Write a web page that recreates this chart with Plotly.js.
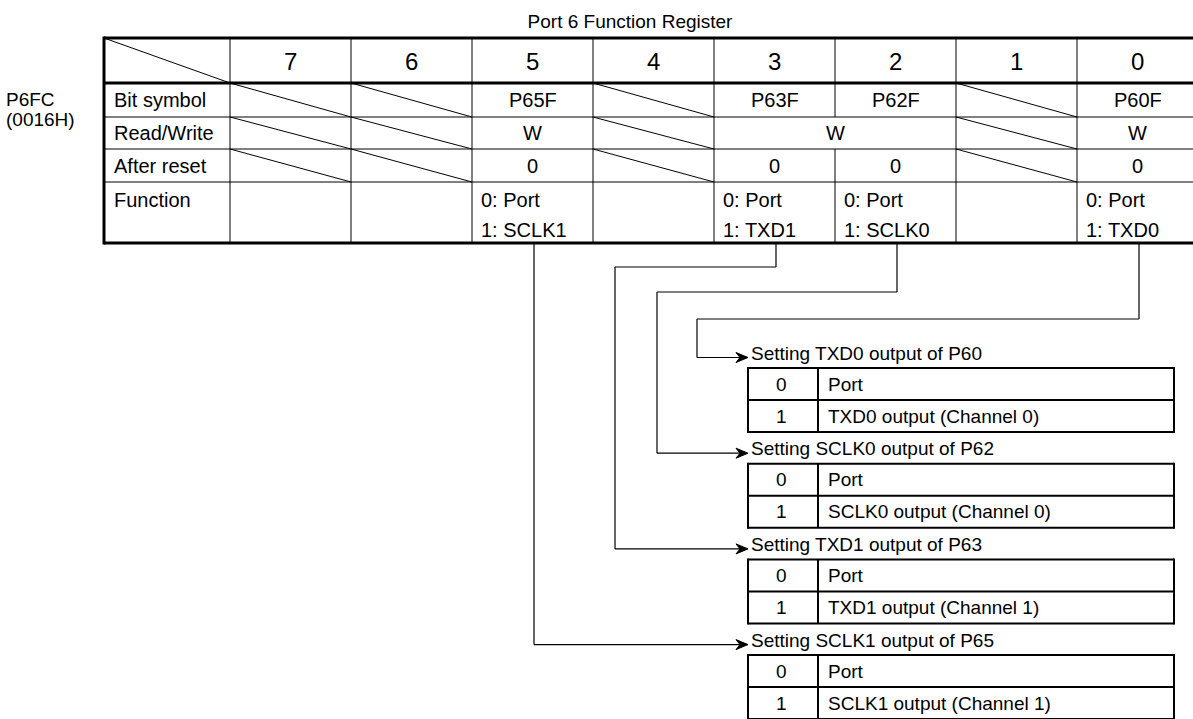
<!DOCTYPE html>
<html><head><meta charset="utf-8">
<script src="https://cdn.plot.ly/plotly-3.0.1.min.js"></script>
<style>html,body{margin:0;padding:0;background:#fff;overflow:hidden}</style>
</head><body><div id="chart" style="width:1193px;height:719px"></div>
<script>
// ---------- content ----------
const chartTitle = 'Port 6 Function Register';
const registerName = 'P6FC';
const registerAddress = '(0016H)';
const bitNumbers = ['7', '6', '5', '4', '3', '2', '1', '0'];
const rowLabels = ['Bit symbol', 'Read/Write', 'After reset', 'Function'];
const bitSymbols = ['', '', 'P65F', '', 'P63F', 'P62F', '', 'P60F'];
const readWriteSpans = [['5', '5', 'W'], ['3', '2', 'W'], ['0', '0', 'W']];
const afterReset = ['', '', '0', '', '0', '0', '', '0'];
const functionLine0 = ['', '', '0: Port', '', '0: Port', '0: Port', '', '0: Port'];
const functionLine1 = ['', '', '1: SCLK1', '', '1: TXD1', '1: SCLK0', '', '1: TXD0'];
const unusedBits = ['7', '6', '4', '1'];
const settingTitles = ['Setting TXD0 output of P60', 'Setting SCLK0 output of P62',
                       'Setting TXD1 output of P63', 'Setting SCLK1 output of P65'];
const settingSourceBits = ['0', '2', '3', '5'];
const settingValues = ['0', '1'];
const settingDescriptions = [
  ['Port', 'TXD0 output (Channel 0)'],
  ['Port', 'SCLK0 output (Channel 0)'],
  ['Port', 'TXD1 output (Channel 1)'],
  ['Port', 'SCLK1 output (Channel 1)']
];

// ---------- geometry / style ----------
const W = 1193, H = 719;
const FONT = 'Liberation Sans, Arial, sans-serif';
const FS = 19, FS_TABLE = 20, FS_HEAD = 24;
const G = {
  left: 104, labelRight: 230, colW: 121,
  rowY: [38, 83, 117, 149, 182, 243],
  thick: 3, thin: 1,
  railX: {'0': 697, '2': 657, '3': 615, '5': null},
  jogY: {'0': 319, '2': 292, '3': 267, '5': null},
  dropOffset: 1.5,
  subLeft: 748, subDiv: 818, subRight: 1174,
  subTop0: 368, subStep: 95.7, subRowH: 32, arrowGap: 10.5,
  lineW: 1.2, subW: 2
};
const right = G.labelRight + G.colW * bitNumbers.length;
const colL = i => G.labelRight + G.colW * i;
const colC = i => G.labelRight + G.colW * (i + 0.5);
const idx = b => bitNumbers.indexOf(b);

const shapes = [];
const ann = [];
function ln(x0, y0, x1, y1, w) {
  shapes.push({type: 'line', xref: 'x', yref: 'y', x0, y0, x1, y1,
    line: {color: '#000', width: w}, layer: 'above'});
}
function txt(x, y, t, size, xa) {
  ann.push({xref: 'x', yref: 'y', x, y, text: t, showarrow: false,
    xanchor: xa || 'center', yanchor: 'middle',
    font: {family: FONT, size, color: '#000'}});
}
function arrowHead(x, y) {
  shapes.push({type: 'path', xref: 'x', yref: 'y',
    path: `M${x},${y} L${x - 12},${y - 5} L${x - 8},${y} L${x - 12},${y + 5} Z`,
    fillcolor: '#000', line: {color: '#000', width: 1}, layer: 'above'});
}

const R = G.rowY;
// thin horizontal row lines
for (let r = 2; r <= 4; r++) ln(G.left, R[r], right, R[r], G.thin);
// vertical column lines
for (let i = 0; i <= bitNumbers.length; i++) {
  const x = colL(i);
  if (i === idx('2')) {
    ln(x, R[0], x, R[2], G.thin);
    ln(x, R[3], x, R[5], G.thin);
  } else {
    ln(x, R[0], x, R[5], G.thin);
  }
}
// thick borders
ln(G.left, R[0], right, R[0], G.thick);
ln(G.left, R[1], right, R[1], G.thick);
ln(G.left, R[5], right, R[5], G.thick);
ln(G.left, R[0] - 1.5, G.left, R[5] + 1.5, G.thick);
ln(right, R[0] - 1.5, right, R[5] + 1.5, G.thick);
// diagonals
ln(G.left, R[0], G.labelRight, R[1], G.thin);
unusedBits.forEach(b => {
  const i = idx(b);
  for (let r = 1; r <= 3; r++) ln(colL(i), R[r], colL(i + 1), R[r + 1], G.thin);
});

// header digits
bitNumbers.forEach((b, i) => txt(colC(i), (R[0] + R[1]) / 2 + 1, b, FS_HEAD));
// row labels
rowLabels.forEach((l, r) => {
  const y = r < 3 ? (R[r + 1] + R[r + 2]) / 2 : R[4] + 18;
  txt(G.left + 8, y, l, FS_TABLE, 'left');
});
bitSymbols.forEach((s, i) => { if (s) txt(colC(i), (R[1] + R[2]) / 2, s, FS_TABLE); });
readWriteSpans.forEach(([a, b, t]) => {
  const x = (colL(idx(a)) + colL(idx(b) + 1)) / 2;
  txt(x, (R[2] + R[3]) / 2, t, FS_TABLE);
});
afterReset.forEach((s, i) => { if (s) txt(colC(i), (R[3] + R[4]) / 2, s, FS_TABLE); });
functionLine0.forEach((s, i) => { if (s) txt(colL(i) + 7, R[4] + 18, s, FS_TABLE, 'left'); });
functionLine1.forEach((s, i) => { if (s) txt(colL(i) + 7, R[4] + 48, s, FS_TABLE, 'left'); });

// register name
txt(4, 99, registerName, FS, 'left');
txt(4, 119, registerAddress, FS, 'left');

// setting groups + connectors
settingTitles.forEach((title, g) => {
  const top = G.subTop0 + G.subStep * g;
  const ay = top - G.arrowGap;
  const bit = settingSourceBits[g];
  const cx = colC(idx(bit)) + G.dropOffset;
  const rail = G.railX[bit], jog = G.jogY[bit];
  if (rail === null) {
    ln(cx, R[5], cx, ay, G.lineW);
    ln(cx, ay, G.subLeft - 6, ay, G.lineW);
  } else {
    ln(cx, R[5], cx, jog, G.lineW);
    ln(cx, jog, rail, jog, G.lineW);
    ln(rail, jog, rail, ay, G.lineW);
    ln(rail, ay, G.subLeft - 6, ay, G.lineW);
  }
  arrowHead(G.subLeft, ay);
  txt(G.subLeft + 1, top - 15, title, FS, 'left');
  // sub table
  const b = top + 2 * G.subRowH;
  ln(G.subLeft, top, G.subRight, top, G.subW);
  ln(G.subLeft, top + G.subRowH, G.subRight, top + G.subRowH, G.subW);
  ln(G.subLeft, b, G.subRight, b, G.subW);
  ln(G.subLeft, top - 1, G.subLeft, b + 1, G.subW);
  ln(G.subDiv, top, G.subDiv, b, G.subW);
  ln(G.subRight, top - 1, G.subRight, b + 1, G.subW);
  settingValues.forEach((v, k) => {
    const y = top + G.subRowH * (k + 0.5);
    txt((G.subLeft + G.subDiv) / 2 - 2, y, v, FS);
    txt(G.subDiv + 8, y, settingDescriptions[g][k], FS, 'left');
  });
});

const layout = {
  width: W, height: H,
  margin: {l: 0, r: 0, t: 0, b: 0},
  paper_bgcolor: '#fff', plot_bgcolor: '#fff',
  showlegend: false,
  title: {text: chartTitle, x: 630 / W, xanchor: 'center', xref: 'paper',
          y: 1 - 21 / H, yanchor: 'middle', yref: 'paper',
          font: {family: FONT, size: FS, color: '#000'}},
  xaxis: {range: [0, W], visible: false, fixedrange: true},
  yaxis: {range: [H, 0], visible: false, fixedrange: true},
  shapes, annotations: ann
};
Plotly.newPlot('chart', [], layout, {staticPlot: true, displayModeBar: false});
</script></body></html>
